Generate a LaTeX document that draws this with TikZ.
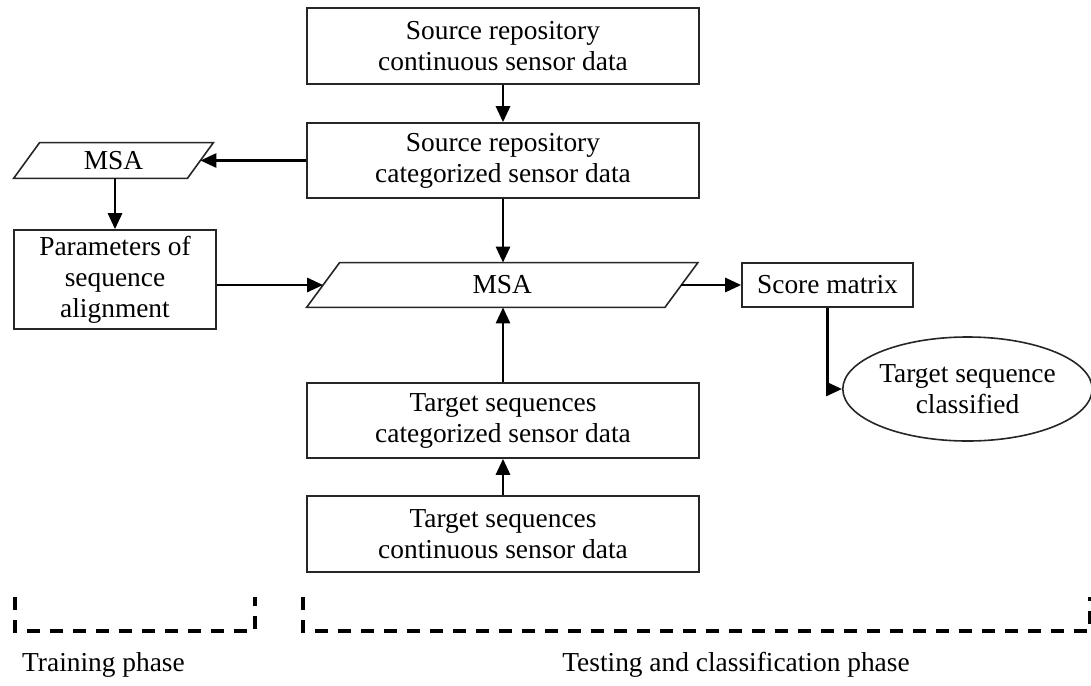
\documentclass[tikz,border=0pt]{standalone}
\usepackage{fontspec}
\setmainfont{Liberation Serif}
\usetikzlibrary{calc,shapes.geometric,arrows.meta}
\begin{document}
\begin{tikzpicture}[x=0.5pt,y=-0.5pt,
  every node/.style={font=\fontsize{13.7pt}{15.5pt}\selectfont, align=center, inner sep=0pt},
  box/.style={draw=black!85, line width=0.8pt, rectangle},
  paratext/.style={rectangle},
  paraline/.style={draw=black!85, line width=0.8pt},
  oval/.style={draw=black!85, line width=0.8pt, ellipse},
  arr/.style={line width=1.4pt, -{Triangle[length=8pt,width=7pt]}},
  bracket/.style={line width=1.6pt, dash pattern=on 6.5pt off 5pt}
]
\useasboundingbox (0,0) rectangle (1091,685);

\node[box, minimum width=196pt, minimum height=38pt] (src1) at (503,46) {Source repository\\continuous sensor data};
\node[box, minimum width=196pt, minimum height=37.5pt] (src2) at (503,160.5) {Source repository\\categorized sensor data};
\node[paratext, minimum width=86.5pt, minimum height=17.5pt] (msa1) at (113.5,160.5) {MSA};
\draw[paraline] ($(msa1.south west)+(-13,0)$) -- ($(msa1.north west)+(13,0)$) -- ($(msa1.north east)+(13,0)$) -- ($(msa1.south east)+(-13,0)$) -- cycle;
\node[box, minimum width=101pt, minimum height=49.5pt] (params) at (115,279.5) {Parameters of\\sequence\\alignment};
\node[paratext, minimum width=178.75pt, minimum height=22pt] (msa2) at (502.25,285) {MSA};
\draw[paraline] ($(msa2.south west)+(-16.5,0)$) -- ($(msa2.north west)+(16.5,0)$) -- ($(msa2.north east)+(16.5,0)$) -- ($(msa2.south east)+(-16.5,0)$) -- cycle;
\node[box, minimum width=85.5pt, minimum height=22pt] (score) at (827.5,285) {Score matrix};
\node[oval, minimum width=116.5pt, minimum height=52pt] (cls) at (967.5,389) {Target sequence\\classified};
\node[box, minimum width=196pt, minimum height=37.5pt] (tgt2) at (503,420.5) {Target sequences\\categorized sensor data};
\node[box, minimum width=196pt, minimum height=38pt] (tgt1) at (503,534) {Target sequences\\continuous sensor data};

\draw[arr] (src1.south) -- (src2.north);
\draw[arr] (src2.west) -- (msa1.east);
\draw[arr] (params.north |- msa1.south) -- (params.north);
\draw[arr] (params.east |- msa2.west) -- (msa2.west);
\draw[arr] (src2.south) -- (src2.south |- msa2.north);
\draw[arr] (tgt2.north) -- (tgt2.north |- msa2.south);
\draw[arr] (tgt1.north) -- (tgt2.south);
\draw[arr] (msa2.east) -- (score.west);
\draw[arr] (score.south) |- (cls.west);

\coordinate (b1a) at (15,597);
\coordinate (b1b) at (15,631);
\coordinate (b1c) at (255,631);
\coordinate (b1d) at (255,597);
\draw[bracket] (b1a) -- (b1b) -- (b1c) -- (b1d);
\coordinate (b2a) at (303,597);
\coordinate (b2b) at (303,631);
\coordinate (b2c) at (1090,631);
\coordinate (b2d) at (1090,597);
\draw[bracket] (b2a) -- (b2b) -- (b2c) -- (b2d);

\node (train) at (103.5,665) {Training phase};
\node (test) at (736,665) {Testing and classification phase};
\end{tikzpicture}
\end{document}
